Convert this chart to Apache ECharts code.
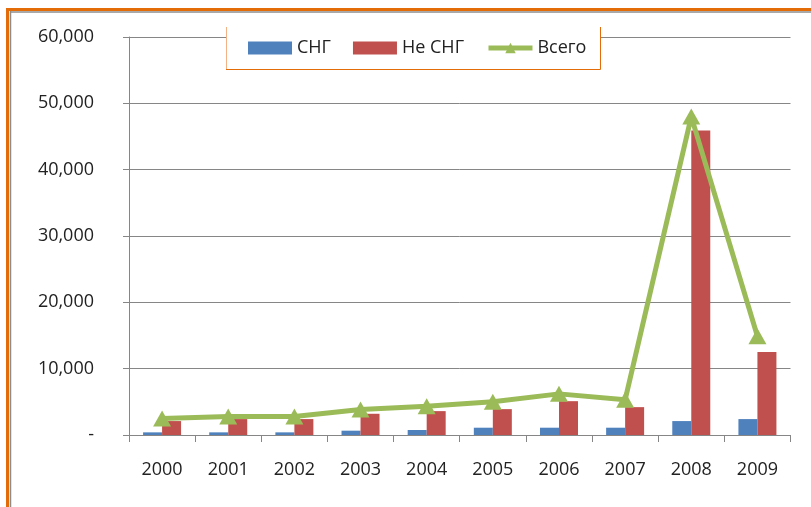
<!DOCTYPE html>
<html>
<head>
<meta charset="utf-8">
<script src="https://cdn.jsdelivr.net/npm/echarts@6/dist/echarts.min.js"></script>
<style>
  html, body { margin: 0; padding: 0; background: #fff; }
  #chart { width: 811px; height: 507px; }
</style>
</head>
<body>
<div id="chart"></div>
<script>
// data
var years = ['2000', '2001', '2002', '2003', '2004', '2005', '2006', '2007', '2008', '2009'];
var cisValues = [400, 400, 400, 650, 750, 1100, 1100, 1100, 2100, 2400];
var nonCisValues = [2100, 2400, 2400, 3200, 3600, 3900, 5100, 4200, 45900, 12500];
var totalValues = [2500, 2800, 2800, 3850, 4350, 5000, 6200, 5300, 48000, 14900];
var seriesNames = ['СНГ', 'Не СНГ', 'Всего'];

var fontName = 'Open Sans';
var gray = '#868686';
var orange = '#E36C09';

var myChart = echarts.init(document.getElementById('chart'));

var option = {
    backgroundColor: '#fff',
    animation: false,
    textStyle: { fontFamily: fontName },
    grid: { left: 129, right: 20.5, top: 37, bottom: 72 },
    legend: {
        left: 248,
        top: 38,
        padding: 0,
        itemWidth: 44,
        itemHeight: 13,
        itemGap: 22,
        z: 10,
        textStyle: { fontFamily: fontName, fontSize: 18, color: '#222', lineHeight: 20 },
        data: [
            { name: seriesNames[0], icon: 'rect' },
            { name: seriesNames[1], icon: 'rect' },
            { name: seriesNames[2], lineStyle: { width: 5 } }
        ]
    },
    xAxis: {
        type: 'category',
        data: years,
        axisLine: { show: false },
        axisTick: { show: true, length: 7, lineStyle: { color: gray } },
        axisLabel: { margin: 26, fontSize: 18, color: '#222', fontFamily: fontName }
    },
    yAxis: {
        type: 'value',
        min: 0,
        max: 60000,
        interval: 10000,
        axisLine: { show: true, lineStyle: { color: gray } },
        axisTick: { show: true, length: 6, lineStyle: { color: gray } },
        splitLine: { show: true, lineStyle: { color: gray, width: 1 } },
        axisLabel: {
            margin: 35,
            fontSize: 18,
            color: '#222',
            fontFamily: fontName,
            formatter: function (v) {
                if (v === 0) return '-';
                return v.toLocaleString('en-US');
            }
        }
    },
    graphic: [
        // frame round the chart
        { type: 'line', z: 20, shape: { x1: 6, y1: 9.5, x2: 811, y2: 9.5 }, style: { stroke: orange, lineWidth: 3 } },
        { type: 'line', z: 20, shape: { x1: 7.5, y1: 8, x2: 7.5, y2: 507 }, style: { stroke: orange, lineWidth: 3 } },
        { type: 'line', z: 20, shape: { x1: 10, y1: 12, x2: 811, y2: 12 }, style: { stroke: '#8c8c8c', lineWidth: 1.5 } },
        { type: 'line', z: 20, shape: { x1: 10.5, y1: 11, x2: 10.5, y2: 507 }, style: { stroke: '#8c8c8c', lineWidth: 1.5 } },
        // legend box
        { type: 'rect', z: 5, shape: { x: 226, y: 27, width: 374, height: 42 }, style: { fill: '#fff' } },
        { type: 'line', z: 6, shape: { x1: 226.5, y1: 27, x2: 226.5, y2: 69 }, style: { stroke: '#F4B183', lineWidth: 1 } },
        { type: 'polyline', z: 6, shape: { points: [[226, 69.5], [600.5, 69.5], [600.5, 27]] }, style: { stroke: orange, lineWidth: 1, fill: null } },
        // y axis runs a little below zero
        { type: 'line', z: 1, shape: { x1: 129.5, y1: 435, x2: 129.5, y2: 442 }, style: { stroke: gray, lineWidth: 1 } }
    ],
    series: [
        {
            name: seriesNames[0],
            type: 'bar',
            barWidth: 19,
            barGap: '0%',
            itemStyle: { color: '#4F81BD' },
            data: cisValues
        },
        {
            name: seriesNames[1],
            type: 'bar',
            barWidth: 19,
            barGap: '0%',
            itemStyle: { color: '#C0504D' },
            data: nonCisValues
        },
        {
            name: seriesNames[2],
            type: 'line',
            z: 4,
            symbol: 'triangle',
            symbolSize: [18, 16],
            lineStyle: { color: '#9BBB59', width: 5 },
            itemStyle: { color: '#9BBB59' },
            data: totalValues
        }
    ]
};

myChart.setOption(option);
</script>
</body>
</html>
